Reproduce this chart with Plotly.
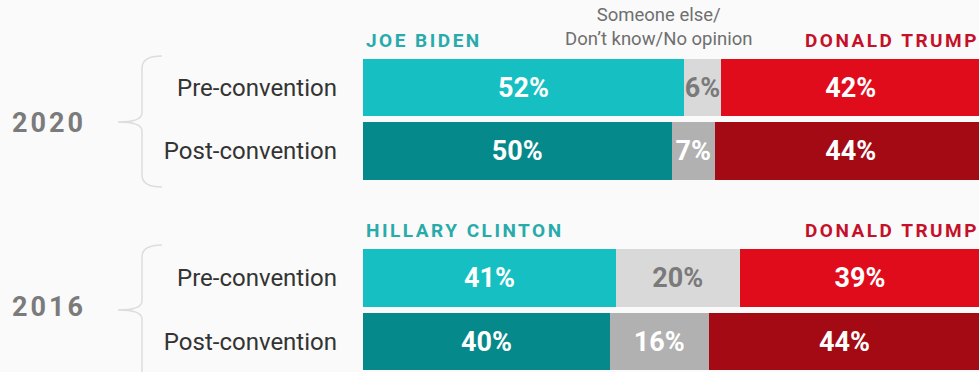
import plotly.graph_objects as go

# ---- data ----
years = ["2020", "2016"]
row_labels = ["Pre-convention", "Post-convention", "Pre-convention", "Post-convention"]
dem_names = ["JOE BIDEN", "HILLARY CLINTON"]
rep_names = ["DONALD TRUMP", "DONALD TRUMP"]
dem_values = [52, 50, 41, 40]
other_values = [6, 7, 20, 16]
rep_values = [42, 44, 39, 44]
other_label = "Someone else/<br>Don’t know/No opinion"

# ---- style ----
W, H = 979, 372
BG = "#fafafa"
FONT = "Roboto"
dem_colors = ["#16bfc1", "#06898a"]
other_colors = ["#d9d9d9", "#b1b1b1"]
rep_colors = ["#e00c1b", "#a40a14"]
other_text_colors = ["#7a7a7a", "#ffffff"]

# row positions: group index * 3 + row index (leaves a spacer between groups)
ypos = [g * 3 + r for g in range(len(years)) for r in range(2)]
kind = [r for g in range(len(years)) for r in range(2)]


def px(x, y):
    return x / W, 1 - y / H


fig = go.Figure()
for vals, cols, tcols in [
    (dem_values, dem_colors, ["#ffffff", "#ffffff"]),
    (other_values, other_colors, other_text_colors),
    (rep_values, rep_colors, ["#ffffff", "#ffffff"]),
]:
    fig.add_trace(go.Bar(
        x=vals, y=ypos, orientation="h",
        marker=dict(color=[cols[k] for k in kind], line=dict(width=0)),
        text=[f"{v}%" for v in vals], textposition="inside", textangle=0,
        insidetextanchor="middle", constraintext="none",
        textfont=dict(family=FONT, size=27, weight="bold", color=[tcols[k] for k in kind]),
        width=0.9, hoverinfo="skip",
    ))

fig.update_layout(
    width=W, height=H, barmode="stack", showlegend=False,
    paper_bgcolor=BG, plot_bgcolor=BG,
    margin=dict(l=0, r=0, t=0, b=0),
    uniformtext=dict(mode="show", minsize=27),
    xaxis=dict(domain=[363 / W, 1], range=[0, 99.8], visible=False, fixedrange=True),
    yaxis=dict(range=[4.48, -1.378], tickvals=ypos, ticktext=row_labels,
               tickfont=dict(family=FONT, size=24, color="#333333"),
               showgrid=False, zeroline=False, showline=False, ticks="",
               ticklabelstandoff=25, fixedrange=True),
)

ann = []
header_y = [40, 230]
year_y = [123, 307]
for g in range(len(years)):
    ann.append(dict(x=10 / W, y=1 - year_y[g] / H, xref="paper", yref="paper",
                    xanchor="left", yanchor="middle", showarrow=False,
                    text=f'<span style="letter-spacing:3px">{years[g]}</span>',
                    font=dict(family=FONT, size=27, weight="bold", color="#7b7b7b")))
    ann.append(dict(x=364 / W, y=1 - header_y[g] / H, xref="paper", yref="paper",
                    xanchor="left", yanchor="middle", showarrow=False,
                    text=f'<span style="letter-spacing:2.5px">{dem_names[g]}</span>',
                    font=dict(family=FONT, size=19, weight="bold", color="#27abab")))
    ann.append(dict(x=1.0, y=1 - header_y[g] / H, xref="paper", yref="paper",
                    xanchor="right", yanchor="middle", showarrow=False, xshift=2,
                    text=f'<span style="letter-spacing:2.5px">{rep_names[g]}</span>',
                    font=dict(family=FONT, size=19, weight="bold", color="#c5102a")))
ann.append(dict(x=658 / W, y=1 - 27 / H, xref="paper", yref="paper",
                xanchor="center", yanchor="middle", showarrow=False,
                text=other_label, align="center",
                font=dict(family=FONT, size=18.5, color="#6f6f6f")))
fig.update_layout(annotations=ann)


def brace(top, mid, bottom):
    def P(x, y):
        a, b = px(x, y)
        return f"{a:.5f},{b:.5f}"
    return (f"M {P(162, top)} Q {P(142, top)} {P(142, top + 12)} "
            f"L {P(142, mid - 9)} Q {P(142, mid)} {P(118, mid)} "
            f"Q {P(142, mid)} {P(142, mid + 9)} "
            f"L {P(142, bottom - 12)} Q {P(142, bottom)} {P(162, bottom)}")


shapes = [
    dict(type="path", xref="paper", yref="paper", path=brace(56, 122, 187),
         line=dict(color="#dddddd", width=1.5)),
    dict(type="path", xref="paper", yref="paper", path=brace(245, 310, 400),
         line=dict(color="#dddddd", width=1.5)),
]
fig.update_layout(shapes=shapes)

fig.write_html("out.html", config={"displayModeBar": False},
               post_script="document.body.style.margin='0px';")
